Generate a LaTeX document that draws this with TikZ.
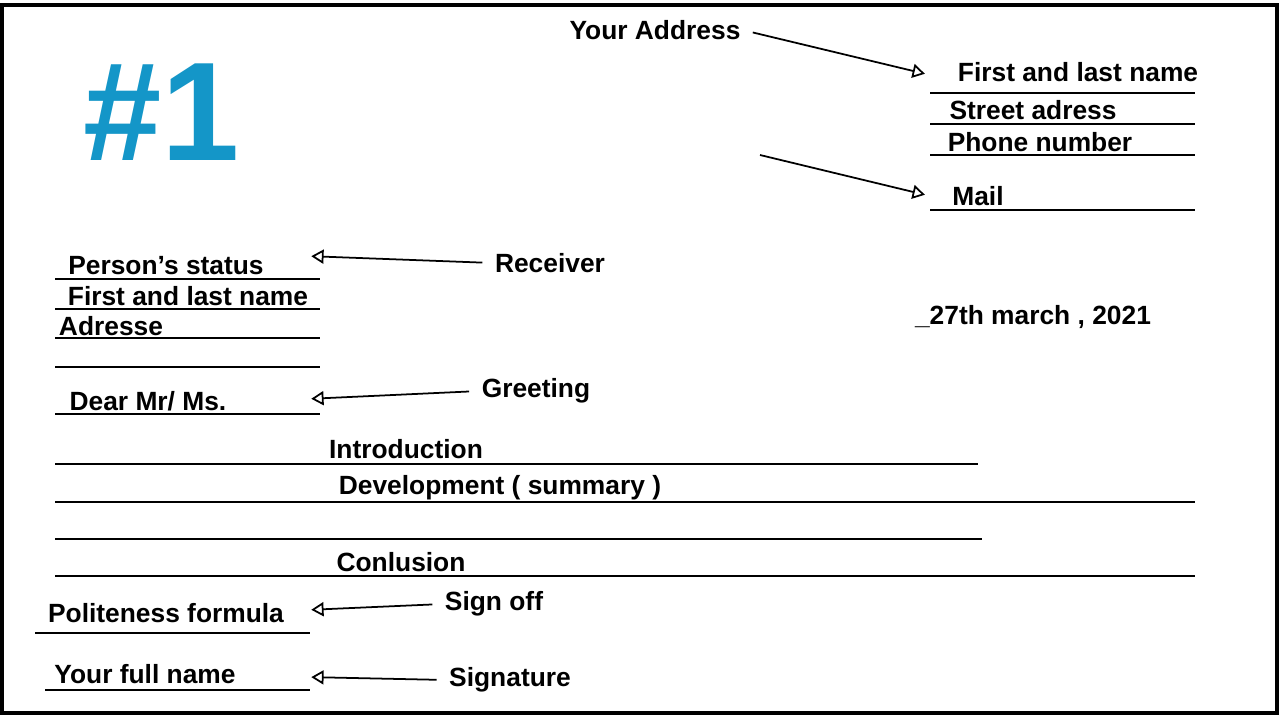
\documentclass[tikz,border=0pt]{standalone}
\usepackage{fontspec}
\setmainfont{Liberation Sans}
\usetikzlibrary{arrows.meta,positioning}
\begin{document}
\begin{tikzpicture}[x=0.02cm,y=-0.02cm,
		lbl/.style={font=\fontsize{15}{17}\selectfont\bfseries, inner sep=1pt},
		rule/.style={line width=1.2pt},
		pointer/.style={line width=1pt, shorten <=6pt, shorten >=3pt, -{Triangle[open, length=7pt, width=8pt]}}]
		\useasboundingbox (0,0) rectangle (1280,720);
		\draw[line width=2pt] (2,5) rectangle (1277,713);

		\node[font=\fontsize{80}{80}\selectfont\bfseries, text={rgb,255:red,20;green,150;blue,200}] (num) at (162,112) {\#1};

		% sender block
		\node[lbl] (addr) at (655,30) {Your Address};
		\node[lbl] (fname) at (1078,72) {First and last name};
		\node[lbl] (street) at (1033,110) {Street adress};
		\node[lbl] (phone) at (1040,142) {Phone number};
		\node[lbl] (mail) at (978,196) {Mail};
		\draw[rule] (930,93) -- (1195,93);
		\draw[rule] (930,124) -- (1195,124);
		\draw[rule] (930,155) -- (1195,155);
		\draw[rule] (930,210) -- (1195,210);
		\coordinate (fnameto) at (930,75);
		\coordinate (mailfrom) at (760,155);
		\coordinate (mailto) at (930,196);
		\draw[pointer] (addr.east) -- (fnameto);
		\draw[pointer, shorten <=0pt] (mailfrom) -- (mailto);

		% receiver block
		\node[lbl] (status) at (166,266) {Person’s status};
		\node[lbl] (rname) at (188,296) {First and last name};
		\node[lbl] (radr) at (111,326) {Adresse};
		\node[lbl] (recv) at (550,263) {Receiver};
		\draw[rule] (55,279) -- (320,279);
		\draw[rule] (55,309) -- (320,309);
		\draw[rule] (55,338) -- (320,338);
		\draw[rule] (55,367) -- (320,367);
		\coordinate (recvto) at (306,256);
		\draw[pointer] (recv.west) -- (recvto);

		\node[lbl] (date) at (1033,317) {\_27th march , 2021};

		% body
		\node[lbl] (dear) at (148,401) {Dear Mr/ Ms.};
		\node[lbl] (greet) at (536,391) {Greeting};
		\draw[rule] (55,414) -- (320,414);
		\coordinate (greetto) at (306,399);
		\draw[pointer] (greet.west) -- (greetto);

		\node[lbl] (intro) at (406,449) {Introduction};
		\node[lbl] (devel) at (500,488) {Development ( summary )};
		\node[lbl] (concl) at (401,562) {Conlusion};
		\draw[rule] (55,464) -- (978,464);
		\draw[rule] (55,502) -- (1195,502);
		\draw[rule] (55,539) -- (982,539);
		\draw[rule] (55,576) -- (1195,576);

		% closing
		\node[lbl] (polite) at (166,613) {Politeness formula};
		\node[lbl] (signoff) at (494,604) {Sign off};
		\draw[rule] (35,633) -- (310,633);
		\coordinate (signoffto) at (306,610);
		\draw[pointer] (signoff.west) -- (signoffto);

		\node[lbl] (full) at (145,674) {Your full name};
		\node[lbl] (sig) at (510,680) {Signature};
		\draw[rule] (45,690) -- (310,690);
		\coordinate (sigto) at (306,677);
		\draw[pointer] (sig.west) -- (sigto);
	\end{tikzpicture}
\end{document}
